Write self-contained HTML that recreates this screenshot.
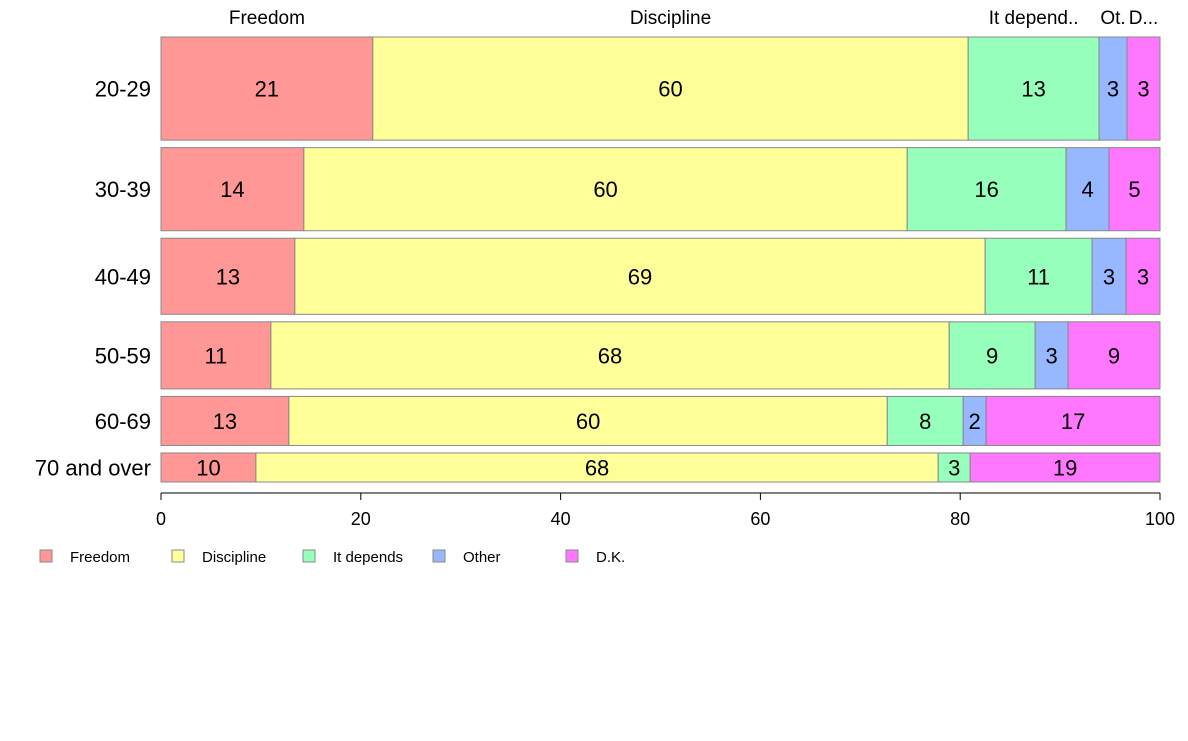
<!DOCTYPE html>
<html><head><meta charset="utf-8"><style>
body{margin:0;background:#fff;}
svg text{font-family:"Liberation Sans",Arial,sans-serif;}
</style></head><body>
<svg id="chart" width="1188" height="736" xmlns="http://www.w3.org/2000/svg"></svg>
<script>
const categories = ["20-29","30-39","40-49","50-59","60-69","70 and over"];
const seriesNames = ["Freedom","Discipline","It depends","Other","D.K."];
const rowWeights = [103,83,76,67,49,29];
const freedom = [21.2,14.3,13.4,11.0,12.8,9.5];
const discipline = [59.6,60.4,69.1,67.9,59.9,68.3];
const itDepends = [13.1,15.9,10.7,8.6,7.6,3.2];
const other = [2.8,4.3,3.4,3.3,2.3,0];
const dk = [3.3,5.1,3.4,9.2,17.4,19.0];
const tickLabels = [0,20,40,60,80,100];
const topLabels = ["Freedom","Discipline","It depend..","Ot.","D..."];

const colors = ["#ff9797","#ffff99","#95ffbb","#97b8ff","#ff77ff"];
const series = [freedom,discipline,itDepends,other,dk];
const svg = document.getElementById('chart');
const NS = "http://www.w3.org/2000/svg";
const x0 = 161, x1 = 1160, yTop = 37, yBot = 482, gap = 7.5;
const xs = v => x0 + v/100*(x1-x0);
function mk(tag, attrs){const e=document.createElementNS(NS,tag);for(const k in attrs)e.setAttribute(k,attrs[k]);svg.appendChild(e);return e;}
const totalW = rowWeights.reduce((a,b)=>a+b,0);
const avail = (yBot-yTop) - gap*(categories.length-1);
let y = yTop;
categories.forEach((cat,i)=>{
  const h = rowWeights[i]/totalW*avail;
  const lab = mk('text',{x:151,y:y+h/2+8,'text-anchor':'end','font-size':22,fill:'#000'});
  lab.textContent = cat;
  
  
  const tot = series.reduce((a,s)=>a+s[i],0);
  let c = 0;
  series.forEach((s,j)=>{
    const v = s[i]/tot*100;
    if(v<=0) return;
    const r = mk('rect',{x:xs(c),y:y,width:xs(c+v)-xs(c),height:h,fill:colors[j],stroke:'#888','stroke-width':1});
    
    
    const t = mk('text',{x:(xs(c)+xs(c+v))/2,y:y+h/2+8,'text-anchor':'middle','font-size':22,fill:'#000'});
    t.textContent = Math.round(s[i]);
    
    
    if(i===0){
      const tl = mk('text',{x:(xs(c)+xs(c+v))/2,y:24,'text-anchor':'middle','font-size':19,fill:'#000'});
      tl.textContent = topLabels[j];
      
      
    }
    c += v;
  });
  y += h + gap;
});
const ax = mk('line',{x1:x0,x2:x1,y1:493,y2:493,stroke:'#000','stroke-width':1});


tickLabels.forEach(v=>{
  const tk = mk('line',{x1:xs(v),x2:xs(v),y1:493,y2:500,stroke:'#000'});
  
  
  const t = mk('text',{x:xs(v),y:525,'text-anchor':'middle','font-size':18,fill:'#000'});
  t.textContent = v;
  
  
});
const legX = [40,172,303,433,566];
seriesNames.forEach((n,j)=>{
  const r = mk('rect',{x:legX[j],y:550,width:12,height:12,fill:colors[j],stroke:'#888'});
  
  
  const t = mk('text',{x:legX[j]+30,y:562,'font-size':15,fill:'#000'});
  t.textContent = n;
  
  
});
</script>
</body></html>
